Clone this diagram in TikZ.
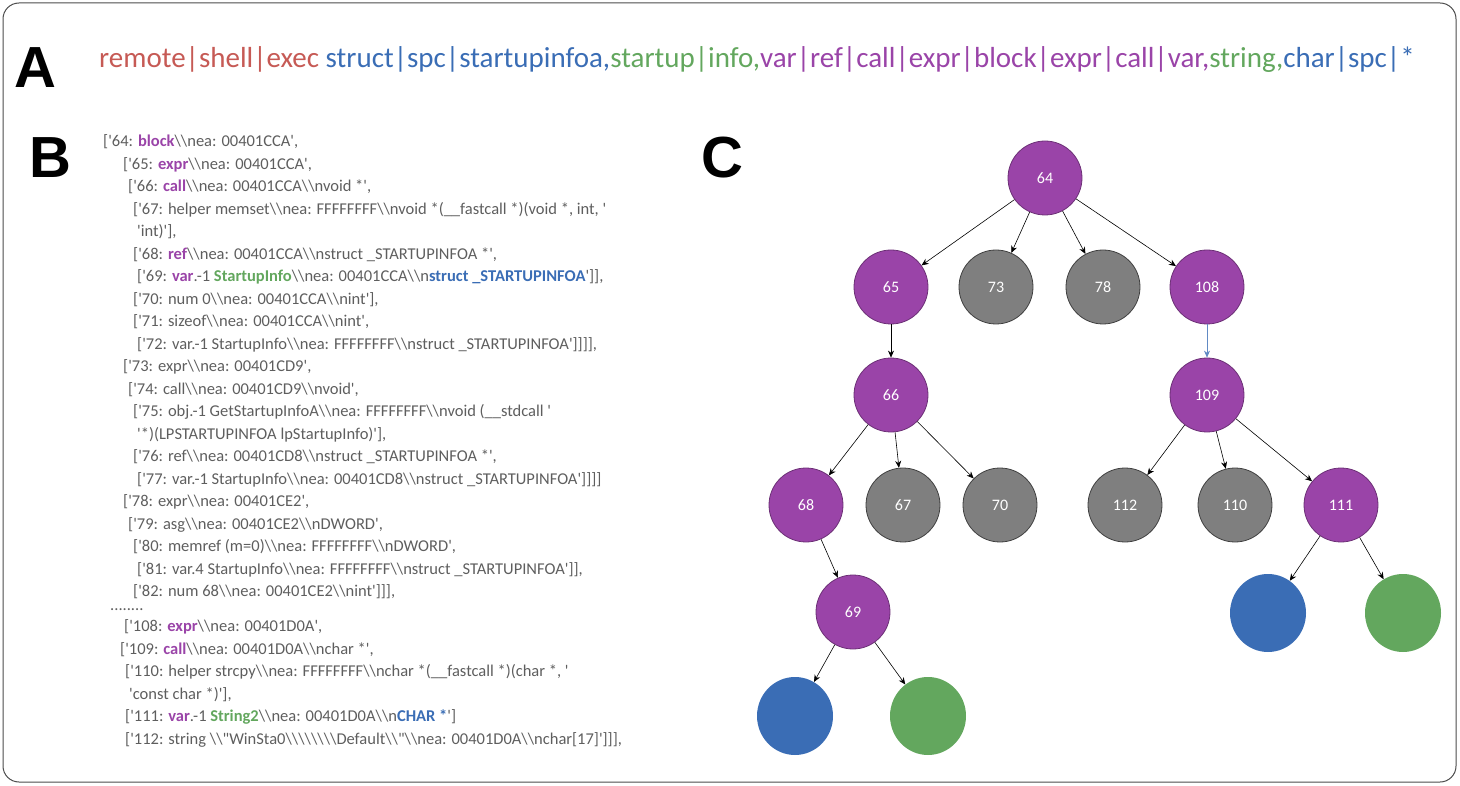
\documentclass[tikz,border=0pt]{standalone}
\usepackage{fontspec}
\setmainfont{Carlito}
\newfontfamily\cf{Carlito}
\newfontfamily\lf{Liberation Sans}
\usetikzlibrary{arrows.meta,shapes.geometric}
\definecolor{cpur}{HTML}{9A44A8}
\definecolor{cgry}{HTML}{7F7F7F}
\definecolor{cblu}{HTML}{3A6DB5}
\definecolor{cgrn}{HTML}{63A75E}
\definecolor{cred}{HTML}{C65A55}
\definecolor{ctxt}{HTML}{5E5E5E}
\newcommand\BS{\textbackslash\textbackslash}
\newcommand\Kp[1]{\textcolor{cpur}{\textbf{#1}}}
\newcommand\Kg[1]{\textcolor{cgrn}{\textbf{#1}}}
\newcommand\Kb[1]{\textcolor{cblu}{\textbf{#1}}}
\begin{document}
\begin{tikzpicture}[x=1pt,y=-1pt,
  code/.style={anchor=west,inner sep=0pt,text=ctxt,font=\cf\fontsize{16.5}{18}\selectfont},
  letter/.style={font=\lf\fontsize{58}{60}\selectfont\bfseries},
  nd/.style={circle,minimum size=74pt,inner sep=0pt,text=white,font=\cf\fontsize{16}{18}\selectfont,line width=0.8pt},
  pn/.style={nd,fill=cpur,draw=cpur!70!black},
  gn/.style={nd,fill=cgry,draw=black!75},
  bn/.style={ellipse,minimum width=76pt,minimum height=78pt,fill=cblu},
  en/.style={ellipse,minimum width=76pt,minimum height=78pt,fill=cgrn},
  ar/.style={-{Stealth[length=7pt,width=6pt]},line width=0.6pt}]
\useasboundingbox (0,0) rectangle (1460,786);
\draw[rounded corners=16pt,line width=1pt,draw=black!70] (3,3) rectangle (1456,782);
\node[letter] (LA) at (35,68) {A};
\node[letter] (LB) at (50,158) {B};
\node[letter] (LC) at (722,158) {C};
\node[font=\fontsize{29}{32}\selectfont,inner sep=0pt] (hdr) at (757,60) {\textcolor{cred}{remote|shell|exec} \textcolor{cblu}{struct|spc|startupinfoa,}\textcolor{cgrn}{startup|info,}\textcolor{cpur}{var|ref|call|expr|block|expr|call|var,}\textcolor{cgrn}{string,}\textcolor{cblu}{char|spc|*}};
% code
\node[code] (l1) at (103,142) {['64: \Kp{block}\BS nea: 00401CCA',};
\node[code] (l2) at (123,165) {['65: \Kp{expr}\BS nea: 00401CCA',};
\node[code] (l3) at (128,187) {['66: \Kp{call}\BS nea: 00401CCA\BS nvoid *',};
\node[code] (l4) at (133,210) {['67: helper memset\BS nea: FFFFFFFF\BS nvoid *(\_\_fastcall *)(void *, int, '};
\node[code] (l5) at (137,232) {'int)'],};
\node[code] (l6) at (133,255) {['68: \Kp{ref}\BS nea: 00401CCA\BS nstruct \_STARTUPINFOA *',};
\node[code] (l7) at (137,277) {['69: \Kp{var}.-1 \Kg{StartupInfo}\BS nea: 00401CCA\BS n\Kb{struct \_STARTUPINFOA}']],};
\node[code] (l8) at (133,300) {['70: num 0\BS nea: 00401CCA\BS nint'],};
\node[code] (l9) at (133,322) {['71: sizeof\BS nea: 00401CCA\BS nint',};
\node[code] (l10) at (137,345) {['72: var.-1 StartupInfo\BS nea: FFFFFFFF\BS nstruct \_STARTUPINFOA']]]],};
\node[code] (l11) at (123,367) {['73: expr\BS nea: 00401CD9',};
\node[code] (l12) at (128,390) {['74: call\BS nea: 00401CD9\BS nvoid',};
\node[code] (l13) at (133,412) {['75: obj.-1 GetStartupInfoA\BS nea: FFFFFFFF\BS nvoid (\_\_stdcall '};
\node[code] (l14) at (137,435) {'*)(LPSTARTUPINFOA lpStartupInfo)'],};
\node[code] (l15) at (133,457) {['76: ref\BS nea: 00401CD8\BS nstruct \_STARTUPINFOA *',};
\node[code] (l16) at (137,480) {['77: var.-1 StartupInfo\BS nea: 00401CD8\BS nstruct \_STARTUPINFOA']]]]};
\node[code] (l17) at (123,502) {['78: expr\BS nea: 00401CE2',};
\node[code] (l18) at (128,525) {['79: asg\BS nea: 00401CE2\BS nDWORD',};
\node[code] (l19) at (133,547) {['80: memref (m=0)\BS nea: FFFFFFFF\BS nDWORD',};
\node[code] (l20) at (137,570) {['81: var.4 StartupInfo\BS nea: FFFFFFFF\BS nstruct \_STARTUPINFOA']],};
\node[code] (l21) at (133,592) {['82: num 68\BS nea: 00401CE2\BS nint']]],};
\node[code] (l22) at (110,610) {........};
\node[code] (l23) at (124,627) {['108: \Kp{expr}\BS nea: 00401D0A',};
\node[code] (l24) at (120,650) {['109: \Kp{call}\BS nea: 00401D0A\BS nchar *',};
\node[code] (l25) at (125,672) {['110: helper strcpy\BS nea: FFFFFFFF\BS nchar *(\_\_fastcall *)(char *, '};
\node[code] (l26) at (129,695) {'const char *)'],};
\node[code] (l27) at (125,717) {['111: \Kp{var}.-1 \Kg{String2}\BS nea: 00401D0A\BS n\Kb{CHAR *}']};
\node[code] (l28) at (125,740) {['112: string \BS"WinSta0\BS\BS\BS\BS Default\BS"\BS nea: 00401D0A\BS nchar[17]']]],};
% tree
\node[pn] (n64) at (1045,178) {64};
\node[pn] (n65) at (891,287) {65};
\node[gn] (n73) at (996,287) {73};
\node[gn] (n78) at (1103,287) {78};
\node[pn] (n108) at (1207,287) {108};
\node[pn] (n66) at (891,395) {66};
\node[pn] (n109) at (1207,395) {109};
\node[pn] (n68) at (806,505) {68};
\node[gn] (n67) at (903,505) {67};
\node[gn] (n70) at (1000,505) {70};
\node[gn] (n112) at (1125,505) {112};
\node[gn] (n110) at (1235,505) {110};
\node[pn] (n111) at (1341,505) {111};
\node[pn] (n69) at (853,612) {69};
\node[bn] (b1) at (1268,613) {};
\node[en] (g1) at (1403,613) {};
\node[bn] (b2) at (795,716) {};
\node[en] (g2) at (928,716) {};
\foreach \a/\b in {n64/n65,n64/n73,n64/n78,n64/n108,n65/n66,n66/n68,n66/n67,n66/n70,n109/n112,n109/n110,n109/n111,n68/n69,n69/b2,n69/g2,n111/b1,n111/g1}
  \draw[ar] (\a) -- (\b);
\draw[ar,draw=cblu!80,-{Stealth[length=7pt,width=6pt,fill=cblu!80]}] (n108) -- (n109);
\end{tikzpicture}
\end{document}
